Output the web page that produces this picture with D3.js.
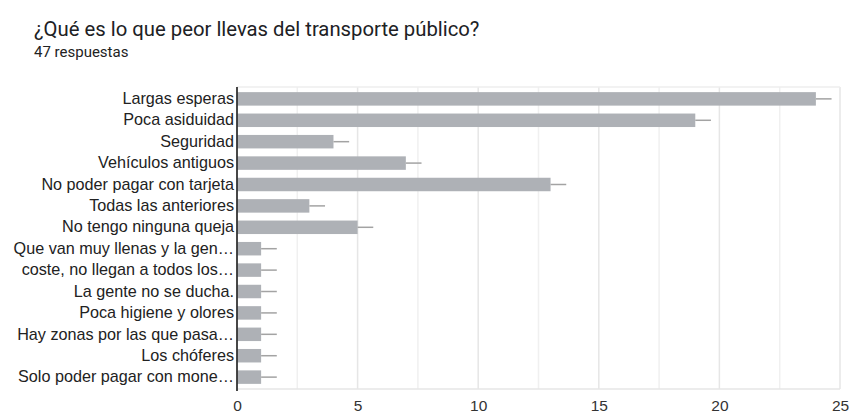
<!DOCTYPE html>
<html>
<head>
<meta charset="utf-8">
<script src="https://cdn.jsdelivr.net/npm/d3@7"></script>
<style>
  html, body { margin: 0; padding: 0; background: #fff; }
  svg { display: block; }
</style>
</head>
<body>
<svg id="chart" width="851" height="414"></svg>
<script>
// Survey answers (multiple choice) and how many respondents picked each one
const categories = [
  "Largas esperas",
  "Poca asiduidad",
  "Seguridad",
  "Vehículos antiguos",
  "No poder pagar con tarjeta",
  "Todas las anteriores",
  "No tengo ninguna queja",
  "Que van muy llenas y la gen…",
  "coste, no llegan a todos los…",
  "La gente no se ducha.",
  "Poca higiene y olores",
  "Hay zonas por las que pasa…",
  "Los chóferes",
  "Solo poder pagar con mone…"
];
const counts = [24, 19, 4, 7, 13, 3, 5, 1, 1, 1, 1, 1, 1, 1];
// length of the whisker drawn past the end of each bar
const whiskers = [0.65, 0.65, 0.65, 0.65, 0.65, 0.65, 0.65, 0.65, 0.65, 0.65, 0.65, 0.65, 0.65, 0.65];
const tickValues = [0, 5, 10, 15, 20, 25];
const gridValues = [2.5, 5, 7.5, 10, 12.5, 15, 17.5, 20, 22.5, 25];

const title = "¿Qué es lo que peor llevas del transporte público?";
const subtitle = "47 respuestas";

const svg = d3.select("#chart");

const plot = { left: 237, right: 840, top: 87, bottom: 389 };

const x = d3.scaleLinear().domain([0, 25]).range([plot.left, plot.right]);
const y = d3.scaleBand()
  .domain(categories)
  .range([plot.top, plot.bottom])
  .paddingInner(0.37)
  .paddingOuter(0.24);

// Header
svg.append("text")
  .attr("x", 34).attr("y", 36)
  .attr("font-family", "Roboto, 'Noto Sans', sans-serif")
  .attr("font-size", 20.3)
  .attr("fill", "#202124")
  .text(title);

svg.append("text")
  .attr("x", 34).attr("y", 57)
  .attr("font-family", "Roboto, 'Noto Sans', sans-serif")
  .attr("font-size", 15)
  .attr("fill", "#222")
  .text(subtitle);

// Gridlines
const grid = svg.append("g");
grid.selectAll("line.v")
  .data(gridValues)
  .join("line")
  .attr("class", "v")
  .attr("x1", d => x(d)).attr("x2", d => x(d))
  .attr("y1", plot.top).attr("y2", plot.bottom)
  .attr("stroke", d => d % 5 === 0 ? "#e6e6e6" : "#f0f0f0")
  .attr("stroke-width", 1.5);
grid.append("line")
  .attr("x1", plot.left).attr("x2", plot.right)
  .attr("y1", plot.top).attr("y2", plot.top)
  .attr("stroke", "#eeeeee").attr("stroke-width", 1.5);
grid.append("line")
  .attr("x1", plot.left).attr("x2", plot.right)
  .attr("y1", plot.bottom).attr("y2", plot.bottom)
  .attr("stroke", "#e6e6e6").attr("stroke-width", 1.5);

// Bars
const rows = categories.map((c, i) => ({ c, v: counts[i], w: whiskers[i] }));

svg.append("g")
  .selectAll("rect")
  .data(rows)
  .join("rect")
  .attr("x", x(0))
  .attr("y", d => y(d.c))
  .attr("width", d => x(d.v) - x(0))
  .attr("height", y.bandwidth())
  .attr("fill", "#aeb1b6");

// Whiskers
svg.append("g")
  .selectAll("line")
  .data(rows)
  .join("line")
  .attr("x1", d => x(d.v))
  .attr("x2", d => x(d.v + d.w))
  .attr("y1", d => y(d.c) + y.bandwidth() / 2)
  .attr("y2", d => y(d.c) + y.bandwidth() / 2)
  .attr("stroke", "#a3a3a3")
  .attr("stroke-width", 1.5);

// Category axis
const yAxis = svg.append("g")
  .attr("transform", `translate(${plot.left},0)`)
  .call(d3.axisLeft(y).tickSize(0).tickPadding(3));
yAxis.select(".domain").remove();
yAxis.selectAll("text")
  .attr("font-family", "'Liberation Sans', Arial, sans-serif")
  .attr("font-size", 16.2)
  .attr("fill", "#222");

svg.append("line")
  .attr("x1", plot.left).attr("x2", plot.left)
  .attr("y1", plot.top).attr("y2", plot.bottom + 2)
  .attr("stroke", "#333").attr("stroke-width", 1.8);

// Value axis
const xAxis = svg.append("g")
  .attr("transform", `translate(0,${plot.bottom})`)
  .call(d3.axisBottom(x).tickValues(tickValues).tickSize(0).tickPadding(11).tickFormat(d3.format("d")));
xAxis.select(".domain").remove();
xAxis.selectAll("text")
  .attr("font-family", "'Liberation Sans', Arial, sans-serif")
  .attr("font-size", 15.5)
  .attr("fill", "#333");
</script>
</body>
</html>
